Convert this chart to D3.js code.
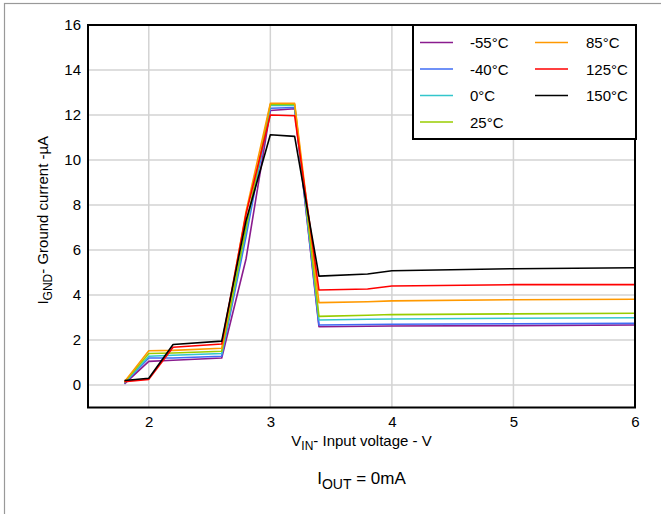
<!DOCTYPE html>
<html><head><meta charset="utf-8">
<script src="https://cdn.jsdelivr.net/npm/d3@7"></script>
<style>body{margin:0;background:#fff}svg{display:block;font-family:Arial,"Liberation Sans",sans-serif}</style>
</head><body><svg id="c" width="661" height="514"></svg>
<script>
const vin = [1.8, 2.0, 2.2, 2.6, 2.8, 3.0, 3.2, 3.4, 3.8, 4.0, 5.0, 6.0];
const seriesNames = ["-55°C", "-40°C", "0°C", "25°C", "85°C", "125°C", "150°C"];
const seriesColors = ["#8a1c8e", "#3f6cf5", "#33c6cc", "#99cc00", "#ff9900", "#ff0000", "#000000"];
const iM55  = [0.05, 1.05, 1.10, 1.20, 5.60, 12.20, 12.28, 2.59, 2.61, 2.62, 2.64, 2.67];
const iM40  = [0.08, 1.20, 1.20, 1.28, 6.60, 12.30, 12.33, 2.67, 2.69, 2.70, 2.72, 2.74];
const i0    = [0.10, 1.28, 1.32, 1.40, 6.85, 12.43, 12.43, 2.89, 2.92, 2.93, 2.97, 2.99];
const i25   = [0.12, 1.40, 1.42, 1.50, 7.00, 12.47, 12.47, 3.05, 3.10, 3.13, 3.16, 3.19];
const i85   = [0.15, 1.52, 1.54, 1.63, 7.70, 12.52, 12.52, 3.66, 3.70, 3.74, 3.79, 3.81];
const i125  = [0.15, 0.25, 1.68, 1.82, 7.60, 12.00, 11.97, 4.22, 4.27, 4.40, 4.46, 4.46];
const i150  = [0.20, 0.30, 1.80, 1.95, 7.30, 11.12, 11.05, 4.84, 4.93, 5.08, 5.17, 5.21];
const seriesValues = [iM55, iM40, i0, i25, i85, i125, i150];
const xTicks = [2, 3, 4, 5, 6];
const yTicks = [0, 2, 4, 6, 8, 10, 12, 14, 16];

const svg = d3.select("#c");
const L = 88, R = 635, T = 25, B = 407.5;
const x = d3.scaleLinear().domain([1.5, 6]).range([L, R]);
const y = d3.scaleLinear().domain([-1, 16]).range([B, T]);

// outer frame
svg.append("rect").attr("x", 4.5).attr("y", 3.5).attr("width", 670).attr("height", 520)
  .attr("fill", "none").attr("stroke", "#999").attr("stroke-width", 1.2);

// grid
const g = svg.append("g");
g.selectAll(".gy").data(yTicks.filter(d => d < 16)).join("line")
  .attr("x1", L).attr("x2", R).attr("y1", d => y(d)).attr("y2", d => y(d))
  .attr("stroke", "#d3d3d3").attr("stroke-width", 1.5);
g.selectAll(".gx").data(xTicks.filter(d => d < 6)).join("line")
  .attr("y1", T).attr("y2", B).attr("x1", d => x(d)).attr("x2", d => x(d))
  .attr("stroke", "#d3d3d3").attr("stroke-width", 1.5);

// lines
const line = d3.line().x((d, i) => x(vin[i])).y(d => y(d));
seriesValues.forEach((vals, k) => {
  svg.append("path").datum(vals).attr("d", line).attr("fill", "none")
    .attr("stroke", seriesColors[k]).attr("stroke-width", 1.6).attr("stroke-linejoin", "round");
});

// frame
svg.append("rect").attr("x", L).attr("y", T).attr("width", R - L).attr("height", B - T)
  .attr("fill", "none").attr("stroke", "#000").attr("stroke-width", 2);

// axes labels via d3 axes
const yAxis = d3.axisLeft(y).tickValues(yTicks).tickSize(0).tickPadding(6).tickFormat(d3.format("d"));
const ya = svg.append("g").attr("transform", `translate(${L},0)`).call(yAxis);
ya.select(".domain").remove();
ya.selectAll("text").attr("font-size", 15).attr("fill", "#000").attr("font-family", "Arial, Liberation Sans, sans-serif").attr("dx", -1);
const xAxis = d3.axisBottom(x).tickValues(xTicks).tickSize(0).tickPadding(9).tickFormat(d3.format("d"));
const xa = svg.append("g").attr("transform", `translate(0,${B})`).call(xAxis);
xa.select(".domain").remove();
xa.selectAll("text").attr("font-size", 15).attr("fill", "#000").attr("font-family", "Arial, Liberation Sans, sans-serif");

// x title
const xt = svg.append("text").attr("x", (L + R) / 2).attr("y", 446).attr("text-anchor", "middle")
  .attr("font-size", 15);
xt.append("tspan").text("V");
xt.append("tspan").text("IN").attr("font-size", 12).attr("dy", 4);
xt.append("tspan").text("- Input voltage - V").attr("dy", -4);

// y title
const yt = svg.append("text").attr("transform", `translate(48,${(T + B) / 2 + 4}) rotate(-90)`)
  .attr("text-anchor", "middle").attr("font-size", 15);
yt.append("tspan").text("I");
yt.append("tspan").text("GND").attr("font-size", 12).attr("dy", 4);
yt.append("tspan").text("- Ground current -µA").attr("dy", -4);

// note
const nt = svg.append("text").attr("x", (L + R) / 2).attr("y", 484).attr("text-anchor", "middle")
  .attr("font-size", 17);
nt.append("tspan").text("I");
nt.append("tspan").text("OUT").attr("font-size", 14).attr("dy", 5);
nt.append("tspan").text(" = 0mA").attr("dy", -5);

// legend
const lg = svg.append("g");
lg.append("rect").attr("x", 413).attr("y", 25).attr("width", 223).attr("height", 114)
  .attr("fill", "#fff").attr("stroke", "#000").attr("stroke-width", 2);
seriesNames.forEach((n, k) => {
  const col = k < 4 ? 0 : 1, row = k < 4 ? k : k - 4;
  const lx = col === 0 ? 420 : 535, tx = col === 0 ? 470 : 586;
  const ly = 42.5 + row * 26.5;
  lg.append("line").attr("x1", lx).attr("x2", lx + 33).attr("y1", ly).attr("y2", ly)
    .attr("stroke", seriesColors[k]).attr("stroke-width", 1.6);
  lg.append("text").attr("x", tx).attr("y", ly + 5.5).attr("font-size", 15).text(n);
});
</script></body></html>
